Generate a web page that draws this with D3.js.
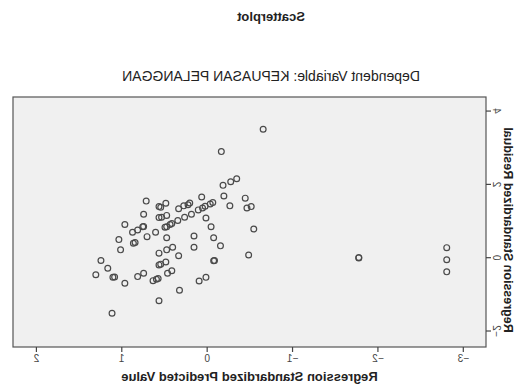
<!DOCTYPE html>
<html>
<head>
<meta charset="utf-8">
<script src="https://cdn.jsdelivr.net/npm/d3@7"></script>
<style>
  html, body { margin: 0; padding: 0; background: #fff; }
  text { font-family: "Liberation Sans", Arial, sans-serif; }
</style>
</head>
<body>
<div id="chart"></div>
<script>
/* data (regression standardized predicted value / residual) */
const predicted = [
  -0.65, -0.16, -0.18, -0.27, -0.34, 0.07, -0.19, -0.44, -0.26, -0.46,
  -0.51, -0.06, -0.03, 0.03, 0.06, 0.11, 0.21, 0.23, 0.28, 0.34,
  0.19, 0.27, 0.35, 0.42, 0.02, -0.04, -0.07, 0.16, 0.16, -0.15,
  -0.54, -0.48, -0.07, -0.08, 0.02, 0.10, 0.33, 0.34, 0.41, 0.42,
  0.47, 0.57, 0.55, 0.49, 0.57, 0.48, 0.64, 0.60, 0.58, 0.57,
  1.12, 0.97, 0.82, 0.75, 1.11, 1.09, 1.31, 1.17, 1.25, 1.02,
  1.04, 0.87, 0.85, 0.71, 0.61, 0.48, 0.97, 0.88, 0.82, 0.76,
  0.75, 0.75, 0.57, 0.54, 0.48, 0.50, 0.48, 0.44, 0.72, 0.57,
  0.55, 0.49, -1.77, -1.77, -2.80, -2.80, -2.80
];
const residual = [
  3.49, 2.88, 1.96, 2.06, 2.14, 1.64, 1.67, 1.61, 1.40, 1.34,
  1.38, 1.49, 1.45, 1.39, 1.34, 1.29, 1.48, 1.43, 1.40, 1.32,
  1.17, 1.09, 1.00, 0.92, 1.07, 0.83, 0.53, 0.58, 0.27, 0.31,
  0.77, 0.06, -0.10, -0.09, -0.55, -0.65, -0.90, 0.04, 0.27, -0.37,
  -0.44, -0.21, -0.19, -0.13, 0.11, 0.20, -0.64, -0.60, -0.58, -1.19,
  -1.53, -0.71, -0.53, -0.44, -0.55, -0.54, -0.48, -0.30, -0.09, 0.20,
  0.48, 0.38, 0.40, 0.56, 0.68, 0.53, 0.89, 0.68, 0.74, 0.83,
  0.84, 1.17, 1.08, 1.09, 1.14, 0.82, 0.83, 0.89, 1.53, 1.38,
  1.36, 1.47, -0.01, -0.02, 0.26, -0.07, -0.40
];
const xTicks = [-3, -2, -1, 0, 1, 2];
const yTicks = [-2, 0, 2, 4];

const chartTitle = "Scatterplot";
const subTitle = "Dependent Variable: KEPUASAN PELANGGAN";
const xTitle = "Regression Standardized Predicted Value";
const yTitle = "Regression Standardized Residual";

const W = 515, H = 385;
const plot = { left: 29, right: 502, top: 97, bottom: 347 };

const points = predicted.map((p, i) => ({ x: p, y: residual[i] }));

const x = d3.scaleLinear().domain([-3.26, 2.28]).range([plot.left, plot.right]);
const y = d3.scaleLinear().domain([-2.45, 4.37]).range([plot.bottom, plot.top]);

const svg = d3.select("#chart").append("svg")
    .attr("width", W)
    .attr("height", H);

// the reference picture is mirrored left-right, so the whole chart is flipped
const g = svg.append("g")
    .attr("transform", `translate(${W},0) scale(-1,1)`);

g.append("text")
    .attr("x", 244).attr("y", 21)
    .attr("text-anchor", "middle")
    .style("font-size", "13px").style("font-weight", "bold")
    .attr("fill", "#222")
    .text(chartTitle);

g.append("text")
    .attr("x", 244).attr("y", 81)
    .attr("text-anchor", "middle")
    .style("font-size", "14px")
    .attr("fill", "#222")
    .text(subTitle);

g.append("rect")
    .attr("x", plot.left).attr("y", plot.top)
    .attr("width", plot.right - plot.left)
    .attr("height", plot.bottom - plot.top)
    .attr("fill", "#f0f0f0")
    .attr("stroke", "#555")
    .attr("stroke-width", 1.2);

// x axis
const xAxis = g.append("g")
    .attr("transform", `translate(0,${plot.bottom})`)
    .call(d3.axisBottom(x).tickValues(xTicks).tickSize(5).tickSizeOuter(0).tickFormat(d3.format("d")));
xAxis.select(".domain").remove();
xAxis.selectAll("line").attr("stroke", "#444").attr("stroke-width", 1.2);
xAxis.selectAll("text")
    .attr("y", 8).attr("dy", "0.71em")
    .style("font-size", "10px")
    .style("font-family", "'Liberation Sans', Arial, sans-serif")
    .attr("fill", "#444");

// y axis
const yAxis = g.append("g")
    .attr("transform", `translate(${plot.left},0)`)
    .call(d3.axisLeft(y).tickValues(yTicks).tickSize(5).tickSizeOuter(0).tickFormat(d3.format("d")));
yAxis.select(".domain").remove();
yAxis.selectAll("line").attr("stroke", "#444").attr("stroke-width", 1.2);
yAxis.selectAll("text")
    .attr("x", null).attr("dy", null)
    .attr("text-anchor", "middle")
    .attr("transform", "translate(-7,0) rotate(-90)")
    .style("font-size", "10px")
    .style("font-family", "'Liberation Sans', Arial, sans-serif")
    .attr("fill", "#444");

g.append("text")
    .attr("x", (plot.left + plot.right) / 2).attr("y", 381)
    .attr("text-anchor", "middle")
    .style("font-size", "13px").style("font-weight", "bold")
    .attr("fill", "#222")
    .text(xTitle);

g.append("text")
    .attr("transform", "translate(11,230) rotate(-90)")
    .attr("text-anchor", "middle")
    .style("font-size", "12.5px").style("font-weight", "bold")
    .attr("fill", "#222")
    .text(yTitle);

g.append("g")
    .selectAll("circle")
    .data(points)
    .join("circle")
    .attr("cx", d => x(d.x))
    .attr("cy", d => y(d.y))
    .attr("r", 2.9)
    .attr("fill", "none")
    .attr("stroke", "#4a4a4a")
    .attr("stroke-width", 1.2);
</script>
</body>
</html>
